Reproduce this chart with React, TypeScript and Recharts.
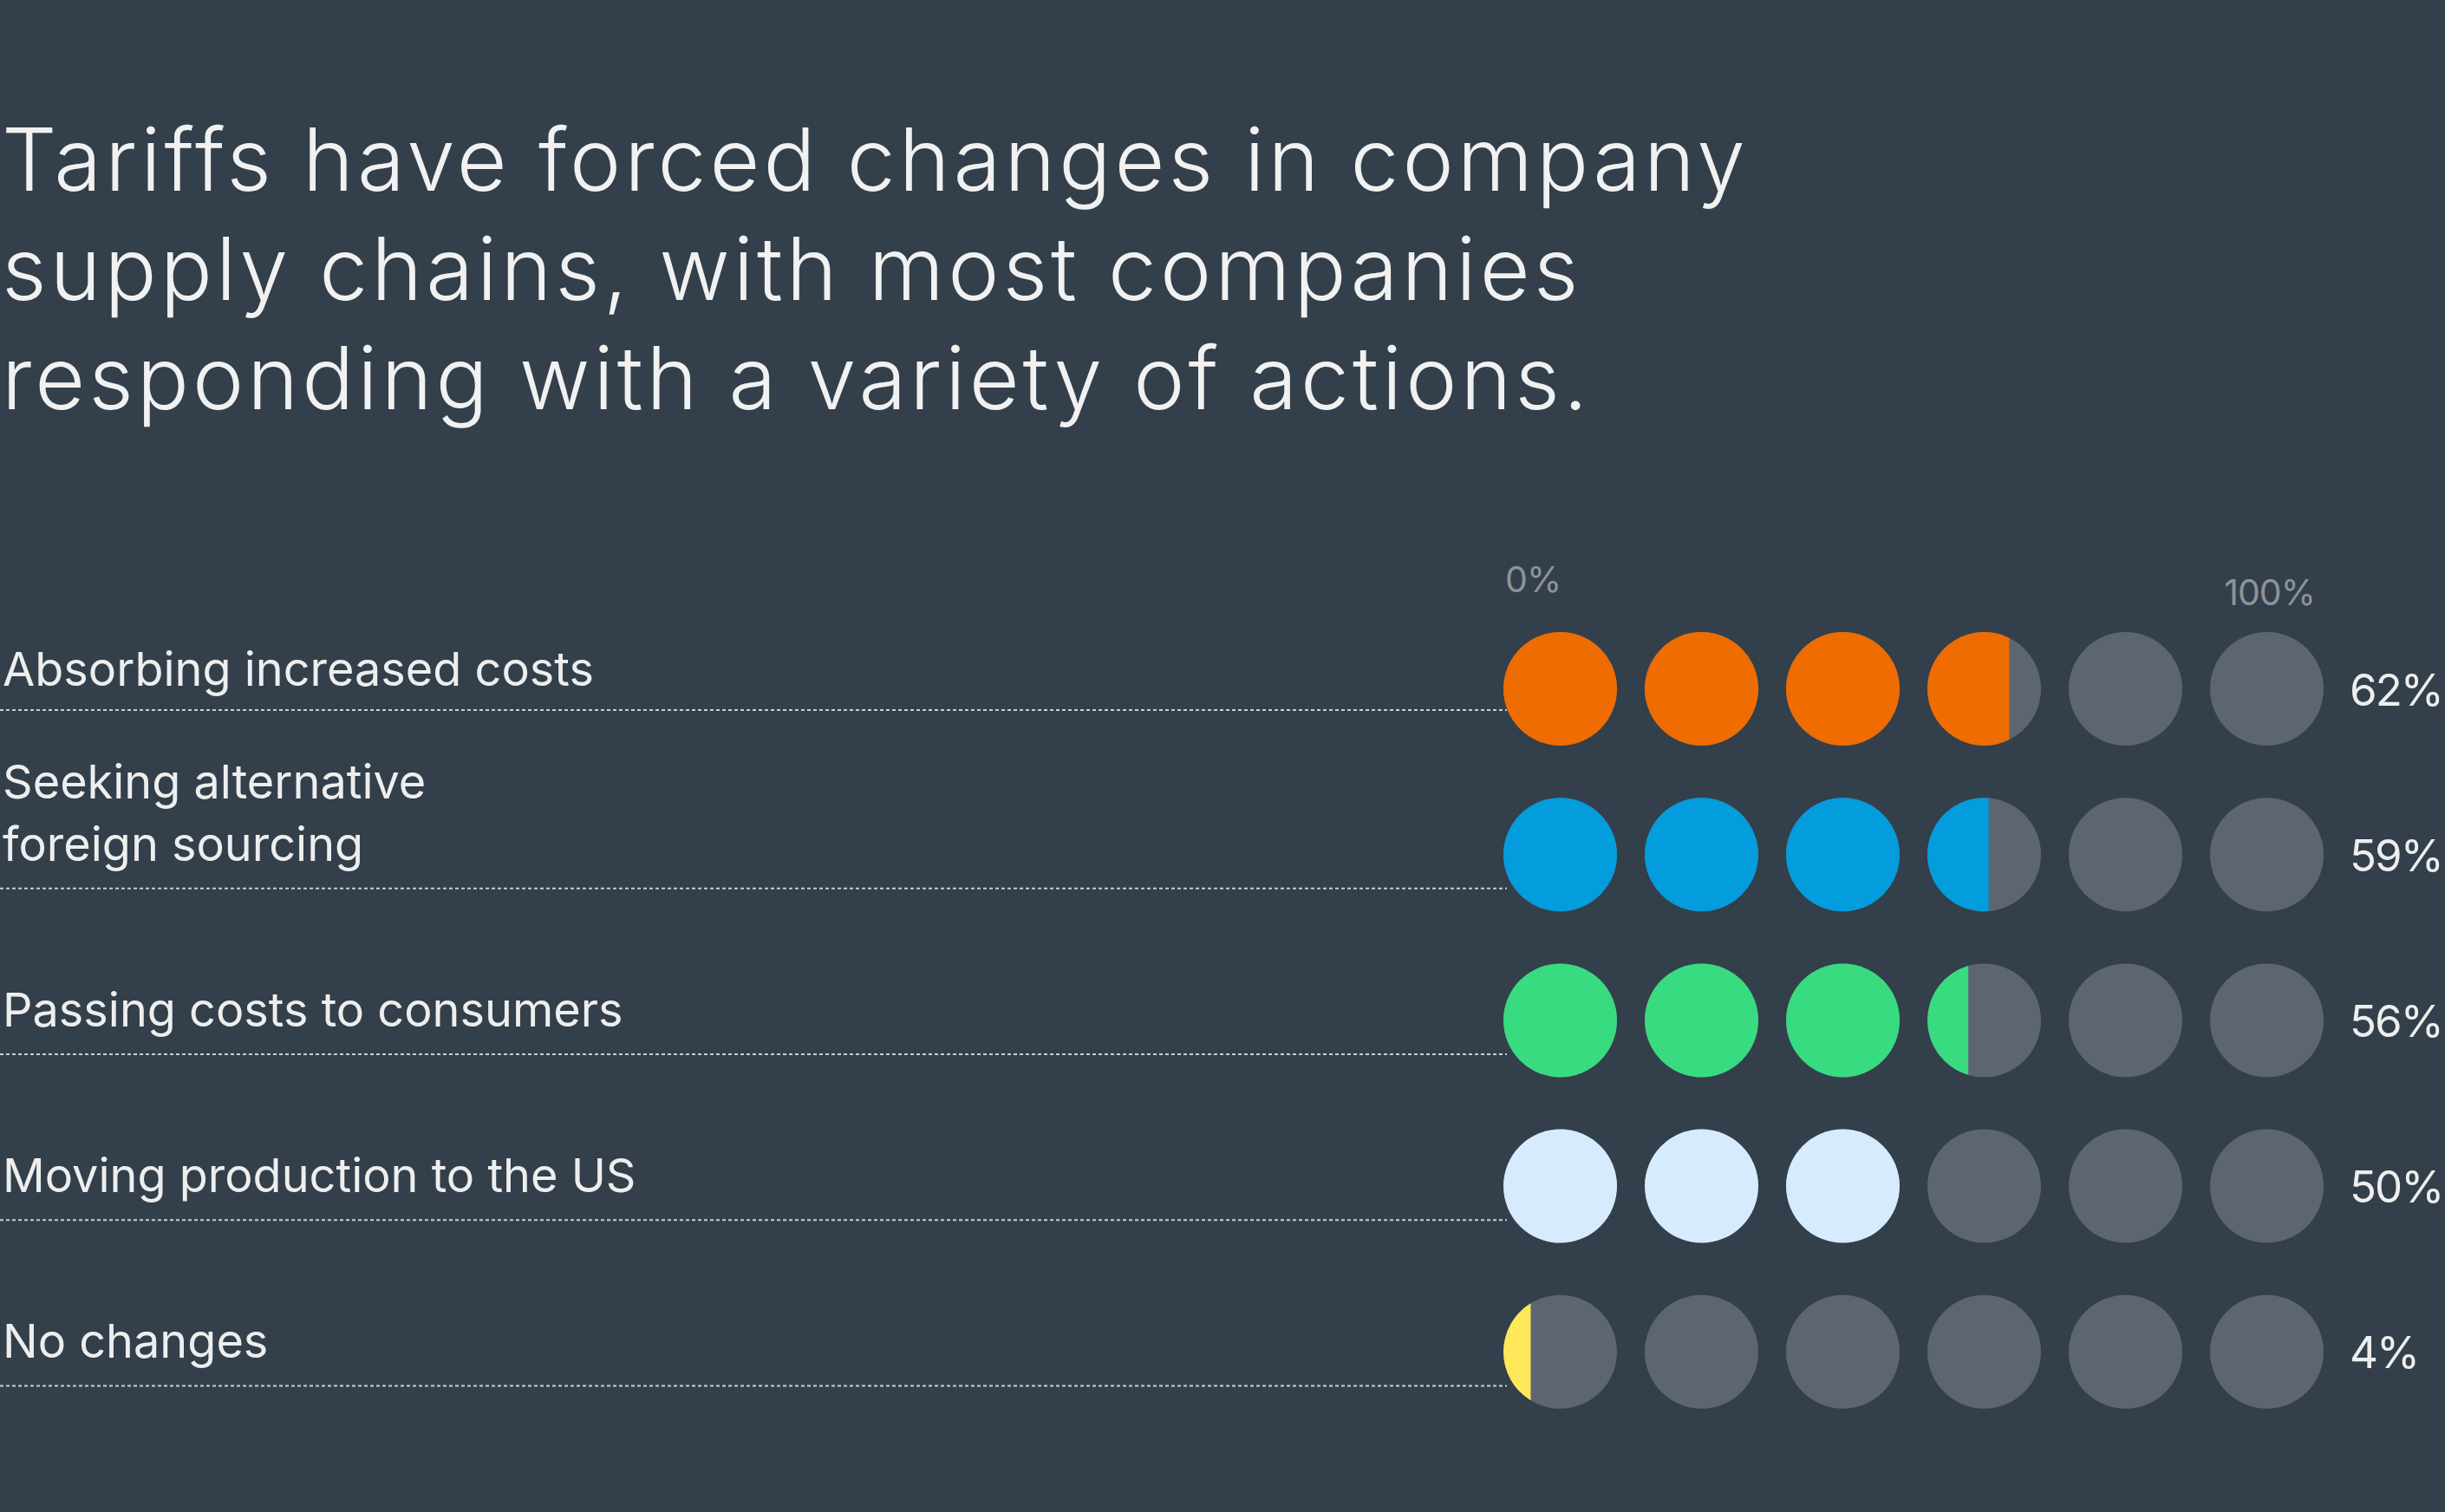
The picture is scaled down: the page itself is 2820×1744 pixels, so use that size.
import React from "react";
import { Bar, BarChart, LabelList, XAxis, YAxis } from "recharts";

const categories = [
  "Absorbing increased costs",
  "Seeking alternative\nforeign sourcing",
  "Passing costs to consumers",
  "Moving production to the US",
  "No changes",
];
const shares = [62, 59, 56, 50, 4];
const axisTicks = [0, 100];

const titleLines = [
  "Tariffs have forced changes in company",
  "supply chains, with most companies",
  "responding with a variety of actions.",
];

const COLORS = ["#ef6c00", "#039cdc", "#38db80", "#d6ecfe", "#ffe75a"];
const BG = "#333f4a";
const EMPTY = "#5d6670";
const FONT = "Inter, 'Noto Sans', sans-serif";
const DOTS = 6;

const data = categories.map((label, i) => ({ label, share: shares[i] }));

// full 0-100% width recovered from the bar's own scaled width
function fullWidth(width: number, value: number) {
  return value > 0 ? (width * 100) / value : 0;
}

function DotRow(props: any) {
  const { x, y, width, height, payload } = props;
  const idx = categories.indexOf(payload.label);
  const full = fullWidth(width, payload.share);
  const d = (full * 131) / 946;
  const gap = (full - DOTS * d) / (DOTS - 1);
  const r = d / 2;
  const cy = y + height / 2;
  const filled = (payload.share / 100) * DOTS;
  const color = COLORS[idx];

  const dots = [];
  for (let k = 0; k < DOTS; k++) {
    const cx = x + k * (d + gap) + r;
    const f = Math.max(0, Math.min(1, filled - k));
    dots.push(<circle key={"g" + k} cx={cx} cy={cy} r={r} fill={EMPTY} />);
    if (f >= 1) {
      dots.push(<circle key={"c" + k} cx={cx} cy={cy} r={r} fill={color} />);
    } else if (f > 0) {
      const xc = cx - r + f * d;
      const dy = Math.sqrt(Math.max(0, r * r - (xc - cx) * (xc - cx)));
      const large = f > 0.5 ? 1 : 0;
      const path = `M ${xc} ${cy - dy} A ${r} ${r} 0 ${large} 0 ${xc} ${cy + dy} Z`;
      dots.push(<path key={"p" + k} d={path} fill={color} />);
    }
  }
  return <g>{dots}</g>;
}

function CategoryTick(props: any) {
  const { y, payload, index } = props;
  const lines = String(payload.value).split("\n");
  const first = index === 0;
  const base = y + (first ? -3.5 : 7) - (lines.length - 1) * 72;
  const lineY = y + (first ? 24.5 : 39);
  return (
    <g>
      <text x={3} y={base} fill="#eeeeee" fontSize={54} fontFamily={FONT} fontWeight={400}>
        {lines.map((l, i) => (
          <tspan key={i} x={3} dy={i === 0 ? 0 : 72}>
            {l}
          </tspan>
        ))}
      </text>
      <line x1={0} x2={1738} y1={lineY} y2={lineY} stroke="#c9ced3" strokeWidth={2} strokeDasharray="4 3" />
    </g>
  );
}

function PercentTick(props: any) {
  const { x, y, payload } = props;
  const isEnd = payload.value === 100;
  return (
    <text
      x={isEnd ? x - 10 : x + 2}
      y={isEnd ? y - 1 : y - 16}
      textAnchor={isEnd ? "end" : "start"}
      fill="#8c939a"
      fontSize={41}
      fontFamily={FONT}
      fontWeight={400}
      letterSpacing={-1}
    >
      {payload.value}%
    </text>
  );
}

function ShareLabel(props: any) {
  const { x, y, width, height, value } = props;
  const full = fullWidth(width, value);
  return (
    <text
      x={x + full + 30}
      y={y + height / 2 + 19}
      fill="#eeeeee"
      fontSize={51}
      fontFamily={FONT}
      fontWeight={400}
      letterSpacing={-2}
    >
      {value}%
    </text>
  );
}

export default function App() {
  return (
    <div
      style={{
        position: "absolute",
        left: 0,
        top: 0,
        width: 2820,
        height: 1744,
        background: BG,
        overflow: "hidden",
      }}
    >
      <div
        style={{
          position: "absolute",
          left: 2,
          top: 121,
          color: "#f1f1f1",
          fontFamily: FONT,
          fontWeight: 300,
          fontSize: 100,
          lineHeight: "126px",
          letterSpacing: 4,
          whiteSpace: "nowrap",
        }}
      >
        {titleLines.map((t, i) => (
          <div key={i}>{t}</div>
        ))}
      </div>
      <div style={{ position: "absolute", left: 0, top: 0 }}>
        <BarChart
          width={2820}
          height={1744}
          data={data}
          layout="vertical"
          margin={{ top: 640, right: 140, bottom: 89, left: 0 }}
          barCategoryGap={0}
        >
          <XAxis
            type="number"
            orientation="top"
            domain={[0, 100]}
            ticks={axisTicks}
            height={59}
            axisLine={false}
            tickLine={false}
            tickSize={0}
            tickMargin={0}
            tick={<PercentTick />}
            interval={0}
          />
          <YAxis
            type="category"
            dataKey="label"
            width={1734}
            axisLine={false}
            tickLine={false}
            tickSize={0}
            tick={<CategoryTick />}
            interval={0}
          />
          <Bar dataKey="share" shape={<DotRow />} isAnimationActive={false}>
            <LabelList dataKey="share" content={<ShareLabel />} />
          </Bar>
        </BarChart>
      </div>
    </div>
  );
}
